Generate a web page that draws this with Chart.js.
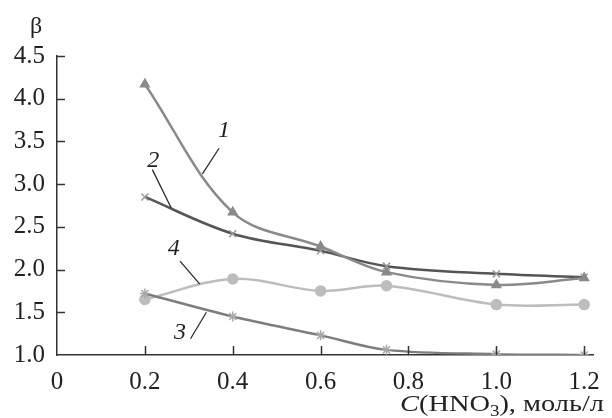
<!DOCTYPE html>
<html><head><meta charset="utf-8">
<script src="https://cdn.jsdelivr.net/npm/chart.js@4/dist/chart.umd.min.js"></script>
<style>html,body{margin:0;padding:0;background:#fff}#w{width:612px;height:418px}</style>
</head><body><div id="w"><canvas id="c"></canvas></div>
<script>
const concentrations = [0.2, 0.4, 0.6, 0.75, 1.0, 1.2];
const series1 = [4.17, 2.67, 2.27, 1.97, 1.82, 1.90];
const series2 = [2.85, 2.42, 2.22, 2.04, 1.95, 1.91];
const series3 = [1.72, 1.45, 1.23, 1.06, 1.01, 1.00];
const series4 = [1.65, 1.89, 1.75, 1.81, 1.59, 1.59];
const xTicks = [0, 0.2, 0.4, 0.6, 0.8, 1.0, 1.2];
const yTicks = [1.0, 1.5, 2.0, 2.5, 3.0, 3.5, 4.0, 4.5];
const curveLabels = ['1', '2', '3', '4'];

const FONT = '"Liberation Serif", "DejaVu Serif", serif';

function pts(ys){ return concentrations.map((x,i)=>({x, y: ys[i]})); }

const annotations = [
  {text: curveLabels[0], lx: 0.380, ly: 3.62, x1: 0.369, y1: 3.42, x2: 0.331, y2: 3.12},
  {text: curveLabels[1], lx: 0.219, ly: 3.28, x1: 0.217, y1: 3.17, x2: 0.260, y2: 2.72},
  {text: curveLabels[2], lx: 0.280, ly: 1.26, x1: 0.304, y1: 1.19, x2: 0.340, y2: 1.50},
  {text: curveLabels[3], lx: 0.266, ly: 2.25, x1: 0.280, y1: 2.10, x2: 0.325, y2: 1.83}
];

const decor = {
  id: 'decor',
  afterDraw(chart){
    const ctx = chart.ctx, xs = chart.scales.x, ys = chart.scales.y;
    const bottom = ys.getPixelForValue(1.0);
    const left = xs.getPixelForValue(0);
    ctx.save();
    ctx.strokeStyle = '#333'; ctx.lineWidth = 1.5;
    xs.ticks.forEach(t => {
      if (t.value === 0) return;
      const px = Math.round(xs.getPixelForValue(t.value)) + 0.5;
      ctx.beginPath(); ctx.moveTo(px, bottom); ctx.lineTo(px, bottom - 9); ctx.stroke();
    });
    ys.ticks.forEach(t => {
      if (t.value === 1.0) return;
      const py = Math.round(ys.getPixelForValue(t.value)) + 0.5;
      ctx.beginPath(); ctx.moveTo(left, py); ctx.lineTo(left + 8, py); ctx.stroke();
    });
    ctx.fillStyle = '#222'; ctx.strokeStyle = '#222'; ctx.lineWidth = 1.2;
    ctx.font = 'italic 24px ' + FONT;
    ctx.textAlign = 'center'; ctx.textBaseline = 'middle';
    annotations.forEach(a => {
      ctx.fillText(a.text, xs.getPixelForValue(a.lx), ys.getPixelForValue(a.ly));
      ctx.beginPath();
      ctx.moveTo(xs.getPixelForValue(a.x1), ys.getPixelForValue(a.y1));
      ctx.lineTo(xs.getPixelForValue(a.x2), ys.getPixelForValue(a.y2));
      ctx.stroke();
    });
    ctx.font = '24px ' + FONT;
    ctx.textAlign = 'center';
    ctx.fillText('β', 36, 27);
    const startX = 400, endX = 604, base = 411;
    ctx.textBaseline = 'alphabetic'; ctx.textAlign = 'left';
    const parts = [
      {t: 'C', f: 'italic 24px ' + FONT, dy: 0},
      {t: '(HNO', f: '24px ' + FONT, dy: 0},
      {t: '3', f: '16px ' + FONT, dy: 5},
      {t: '), моль/л', f: '24px ' + FONT, dy: 0}
    ];
    let total = 0;
    parts.forEach(p => { ctx.font = p.f; p.w = ctx.measureText(p.t).width; total += p.w; });
    const sx = (endX - startX) / total;
    ctx.translate(startX, 0);
    ctx.scale(sx, 1);
    let x = 0;
    parts.forEach(p => { ctx.font = p.f; ctx.fillText(p.t, x, base + p.dy); x += p.w; });
    ctx.restore();
  }
};

function ds(data, line, point, style, radius){
  return {
    data: pts(data), borderColor: line, backgroundColor: point,
    pointBorderColor: point, pointBackgroundColor: point,
    pointStyle: style, pointRadius: radius, pointBorderWidth: 1.5,
    borderWidth: 2.5, tension: 0.35, fill: false
  };
}

new Chart(document.getElementById('c'), {
  type: 'line',
  data: {
    datasets: [
      ds(series1, '#8a8a8a', '#8a8a8a', 'triangle', 5),
      ds(series2, '#555555', '#9a9a9a', 'crossRot', 5),
      ds(series3, '#7d7d7d', '#a8a8a8', 'star', 5),
      ds(series4, '#bdbdbd', '#bdbdbd', 'circle', 5)
    ]
  },
  plugins: [decor],
  options: {
    responsive: true, maintainAspectRatio: false, animation: false,
    layout: {padding: {top: 56, right: 9, left: 0, bottom: 0}},
    plugins: {legend: {display: false}, tooltip: {enabled: false}},
    scales: {
      x: {
        type: 'linear', min: 0, max: 1.222,
        afterBuildTicks(s){ s.ticks = xTicks.map(v => ({value: v})); },
        afterFit(s){ s.height = 63; },
        border: {color: '#333', width: 1.5},
        grid: {display: true, drawOnChartArea: false, drawTicks: false, color: 'rgba(0,0,0,0)'},
        ticks: {padding: 12, color: '#222', font: {family: FONT, size: 25},
          callback: v => v === 0 ? '0' : v.toFixed(1)}
      },
      y: {
        type: 'linear', min: 1.0, max: 4.5,
        afterBuildTicks(s){ s.ticks = yTicks.map(v => ({value: v})); },
        afterFit(s){ s.width = 57; },
        border: {color: '#333', width: 1.5},
        grid: {display: true, drawOnChartArea: false, drawTicks: false, color: 'rgba(0,0,0,0)'},
        ticks: {padding: 12, color: '#222', font: {family: FONT, size: 25},
          callback: v => v.toFixed(1)}
      }
    }
  }
});
</script>
</body></html>
